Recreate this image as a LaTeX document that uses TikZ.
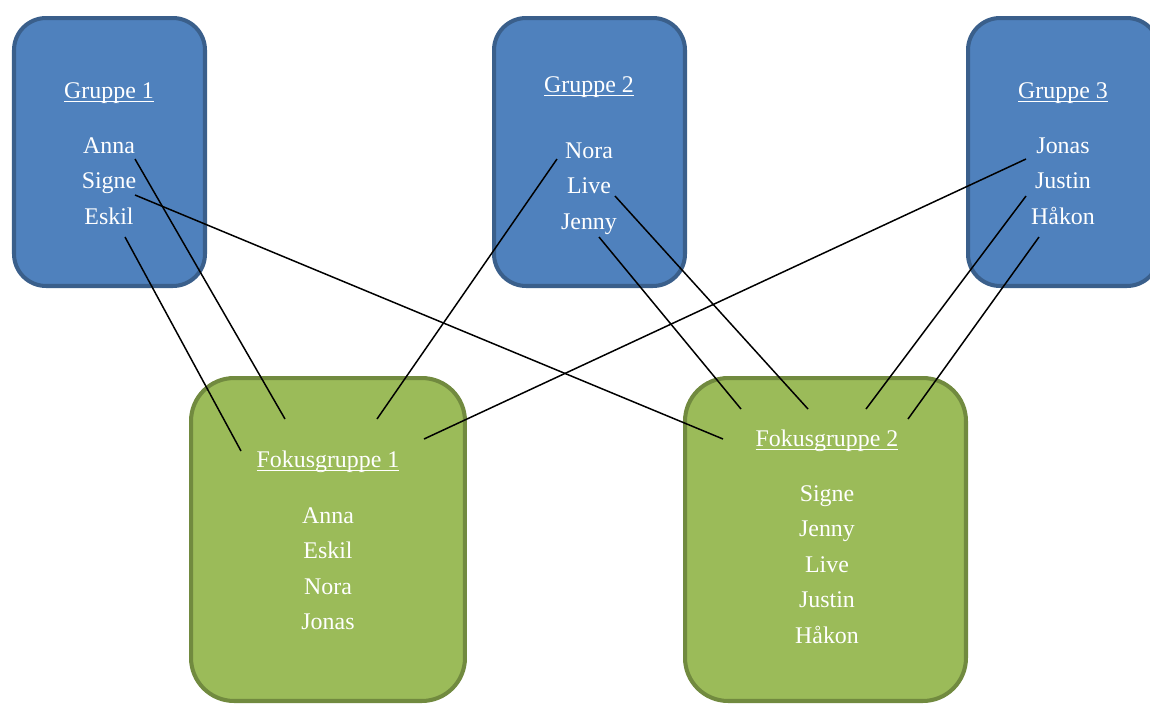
\documentclass[tikz,border=0pt]{standalone}
\usepackage{fontspec}
\setmainfont{Liberation Serif}
\usetikzlibrary{positioning}
\definecolor{grpfill}{HTML}{4F81BD}
\definecolor{grpline}{HTML}{3A5F8B}
\definecolor{fokfill}{HTML}{9BBB59}
\definecolor{fokline}{HTML}{718A3F}
\newsavebox\ulbox
\newcommand\ulword[1]{\sbox\ulbox{#1}\rlap{\vrule height -1.4pt depth 2.1pt width \wd\ulbox}\usebox\ulbox}

\begin{document}
\begin{tikzpicture}[x=0.02cm,y=-0.02cm,node distance=0.71cm,on grid,
  gruppe/.style={rectangle,draw=grpline,fill=grpfill,line width=2.3pt,rounded corners=0.64cm,minimum width=3.82cm,minimum height=5.36cm},
  fokus/.style={rectangle,draw=fokline,fill=fokfill,line width=2.3pt,rounded corners=0.86cm,minimum height=6.46cm},
  person/.style={text=white,inner sep=0pt,text height=10pt,text depth=3pt,font=\fontsize{13.6}{16}\selectfont},
  wire/.style={black,line width=0.85pt}]
\useasboundingbox (0,0) rectangle (1150,704);
\clip (0,0) rectangle (1150,704);

\node[gruppe] (G_1) at (109.5,152) {};
\node[gruppe] (G_2) at (589.5,152) {};
\node[gruppe] (G_3) at (1063.5,152) {};
\node[fokus,minimum width=5.48cm] (F_1) at (328,539.5) {};
\node[fokus,minimum width=5.62cm] (F_2) at (825.5,539.5) {};

% Gruppe 1
\node[person] (T_1) at (109,92) {\ulword{Gruppe 1}};
\node[person] (Anna_1) [below=1.1cm of T_1] {Anna};
\node[person] (Signe_1) [below=of Anna_1] {Signe};
\node[person] (Eskil_1) [below=of Signe_1] {Eskil};

% Gruppe 2
\node[person] (T_2) at (589,86) {\ulword{Gruppe 2}};
\node[person] (Nora_2) [below=1.32cm of T_2] {Nora};
\node[person] (Live_2) [below=of Nora_2] {Live};
\node[person] (Jenny_2) [below=of Live_2] {Jenny};

% Gruppe 3
\node[person] (T_3) at (1063,92) {\ulword{Gruppe 3}};
\node[person] (Jonas_3) [below=1.1cm of T_3] {Jonas};
\node[person] (Justin_3) [below=of Jonas_3] {Justin};
\node[person] (Hakon_3) [below=of Justin_3] {Håkon};

% Fokusgruppe 1
\node[person] (TF_1) at (328,461) {\ulword{Fokusgruppe 1}};
\node[person] (Anna_F) [below=1.12cm of TF_1] {Anna};
\node[person] (Eskil_F) [below=of Anna_F] {Eskil};
\node[person] (Nora_F) [below=of Eskil_F] {Nora};
\node[person] (Jonas_F) [below=of Nora_F] {Jonas};

% Fokusgruppe 2
\node[person] (TF_2) at (827,440) {\ulword{Fokusgruppe 2}};
\node[person] (Signe_F) [below=1.1cm of TF_2] {Signe};
\node[person] (Jenny_F) [below=of Signe_F] {Jenny};
\node[person] (Live_F) [below=of Jenny_F] {Live};
\node[person] (Justin_F) [below=of Live_F] {Justin};
\node[person] (Hakon_F) [below=of Justin_F] {Håkon};

% line ends
\coordinate (a_1) at (135,159);  \coordinate (a_2) at (285,419);
\coordinate (s_1) at (135,195);  \coordinate (s_2) at (723,439);
\coordinate (e_1) at (125,237);  \coordinate (e_2) at (241,451);
\coordinate (n_1) at (557,159);  \coordinate (n_2) at (377,419);
\coordinate (l_1) at (615,196);  \coordinate (l_2) at (808,409);
\coordinate (j_1) at (599,237);  \coordinate (j_2) at (741,409);
\coordinate (o_1) at (1026,159); \coordinate (o_2) at (424,439);
\coordinate (u_1) at (1026,196); \coordinate (u_2) at (866,409);
\coordinate (h_1) at (1039,237); \coordinate (h_2) at (908,419);

\path[wire]
	(a_1) edge (a_2)
	(s_1) edge (s_2)
	(e_1) edge (e_2)
	(n_1) edge (n_2)
	(l_1) edge (l_2)
	(j_1) edge (j_2)
	(o_1) edge (o_2)
	(u_1) edge (u_2)
	(h_1) edge (h_2);
\end{tikzpicture}
\end{document}
